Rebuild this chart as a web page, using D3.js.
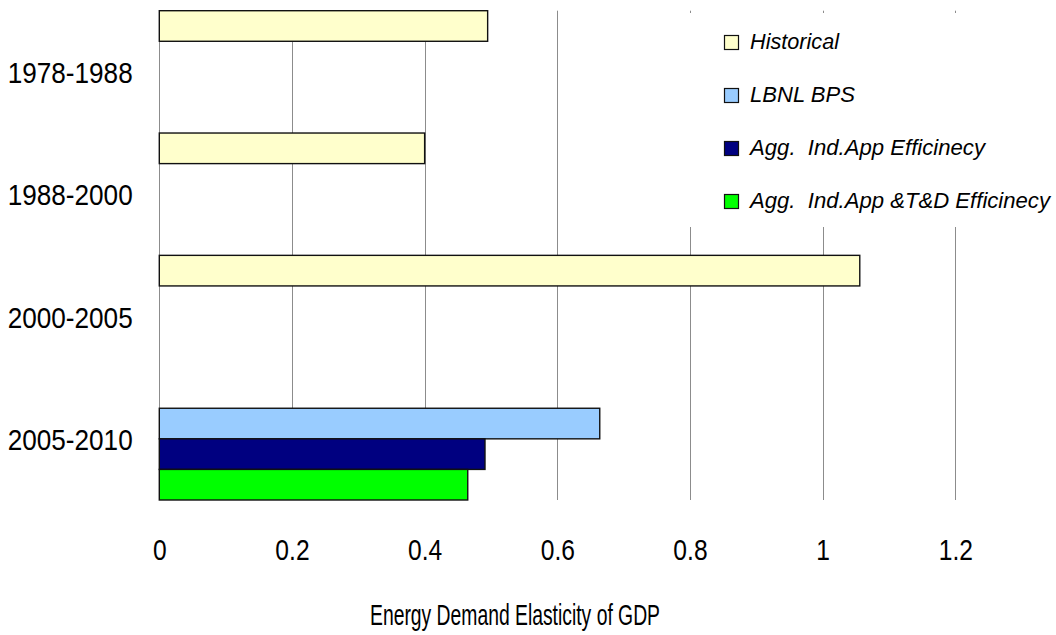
<!DOCTYPE html>
<html>
<head>
<meta charset="utf-8">
<script src="https://cdn.jsdelivr.net/npm/d3@7"></script>
<style>
  html, body { margin: 0; padding: 0; background: #fff; }
  svg { display: block; }
  text { font-family: "Liberation Sans Narrow", "Arial Narrow", "Liberation Sans", Arial, sans-serif; fill: #000; white-space: pre; }
</style>
</head>
<body>
<svg id="chart" width="1056" height="635"></svg>
<script>
const categories = ["1978-1988", "1988-2000", "2000-2005", "2005-2010"];
const seriesNames = ["Historical", "LBNL BPS", "Agg.  Ind.App Efficinecy", "Agg.  Ind.App &T&D Efficinecy"];
const historical = [0.495, 0.40, 1.056, null];
const lbnlBps = [null, null, null, 0.664];
const aggIndApp = [null, null, null, 0.491];
const aggIndAppTD = [null, null, null, 0.465];
const xTicks = [0, 0.2, 0.4, 0.6, 0.8, 1, 1.2];
const xTickLabels = ["0", "0.2", "0.4", "0.6", "0.8", "1", "1.2"];
const xTitle = "Energy Demand Elasticity of GDP";

const colors = ["#FFFFCC", "#99CCFF", "#000080", "#00FF00"];
const seriesValues = [historical, lbnlBps, aggIndApp, aggIndAppTD];

const svg = d3.select("#chart");
const plot = { left: 159.3, right: 955.3, top: 10.7, bottom: 500 };

const x = d3.scaleLinear().domain([0, 1.2]).range([plot.left, plot.right]);
const y = d3.scaleBand().domain(categories).range([plot.top, plot.bottom]).padding(0);
const ySub = d3.scaleBand().domain(d3.range(seriesNames.length)).range([0, y.bandwidth()]).padding(0);

// gridlines
svg.append("g").selectAll("line")
  .data(xTicks.filter(d => d > 0))
  .join("line")
  .attr("x1", d => Math.round(x(d)) + 0.5).attr("x2", d => Math.round(x(d)) + 0.5)
  .attr("y1", plot.top).attr("y2", plot.bottom)
  .attr("stroke", "#8c8c8c").attr("stroke-width", 1);

// vertical axis line
svg.append("line")
  .attr("x1", Math.round(plot.left) + 0.5).attr("x2", Math.round(plot.left) + 0.5)
  .attr("y1", plot.top).attr("y2", plot.bottom)
  .attr("stroke", "#8c8c8c").attr("stroke-width", 1);

// bars
const barData = [];
categories.forEach((c, ci) => {
  seriesValues.forEach((vals, si) => {
    if (vals[ci] != null) barData.push({ cat: c, s: si, v: vals[ci] });
  });
});
svg.append("g").selectAll("rect")
  .data(barData)
  .join("rect")
  .attr("x", x(0))
  .attr("y", d => y(d.cat) + ySub(d.s))
  .attr("width", d => x(d.v) - x(0))
  .attr("height", ySub.bandwidth())
  .attr("fill", d => colors[d.s])
  .attr("stroke", "#111")
  .attr("stroke-width", 1.4);

// category labels
svg.append("g").selectAll("text")
  .data(categories)
  .join("text")
  .attr("x", 132.7)
  .attr("y", d => y(d) + y.bandwidth() / 2 + 11.2)
  .attr("text-anchor", "end")
  .attr("font-size", 30)
  .attr("textLength", 125)
  .attr("lengthAdjust", "spacingAndGlyphs")
  .text(d => d);

// x tick labels
const xAxis = d3.axisBottom(x).tickValues(xTicks).tickFormat((d, i) => xTickLabels[i]).tickSize(0).tickPadding(0);
const gx = svg.append("g").attr("transform", `translate(0, 560)`).call(xAxis);
gx.select(".domain").remove();
gx.attr("font-size", null).attr("font-family", null);
gx.selectAll("text")
  .attr("x", 0).attr("y", 0).attr("dy", 0)
  .attr("font-size", 30)
  .attr("fill", "#000")
  .attr("transform", "scale(0.82,1)");

// x title
svg.append("text")
  .attr("x", 515).attr("y", 625)
  .attr("text-anchor", "middle")
  .attr("font-size", 30)
  .attr("textLength", 290)
  .attr("lengthAdjust", "spacingAndGlyphs")
  .text(xTitle);

// legend
const legend = svg.append("g");
legend.append("rect")
  .attr("x", 685).attr("y", 13).attr("width", 371).attr("height", 214)
  .attr("fill", "#fff");
const legendWidths = [89, 105, 235, 300];
const li = legend.selectAll("g.item")
  .data(seriesNames)
  .join("g").attr("class", "item")
  .attr("transform", (d, i) => `translate(0, ${i * 53})`);
li.append("rect")
  .attr("x", 724.5).attr("y", 35.5).attr("width", 14).attr("height", 14)
  .attr("fill", (d, i) => colors[i])
  .attr("stroke", "#111").attr("stroke-width", 1.2);
li.append("text")
  .attr("x", 750).attr("y", 48.5)
  .attr("font-size", 22)
  .attr("font-style", "italic")
  .attr("textLength", (d, i) => legendWidths[i])
  .attr("lengthAdjust", "spacingAndGlyphs")
  .text(d => d);
</script>
</body>
</html>
